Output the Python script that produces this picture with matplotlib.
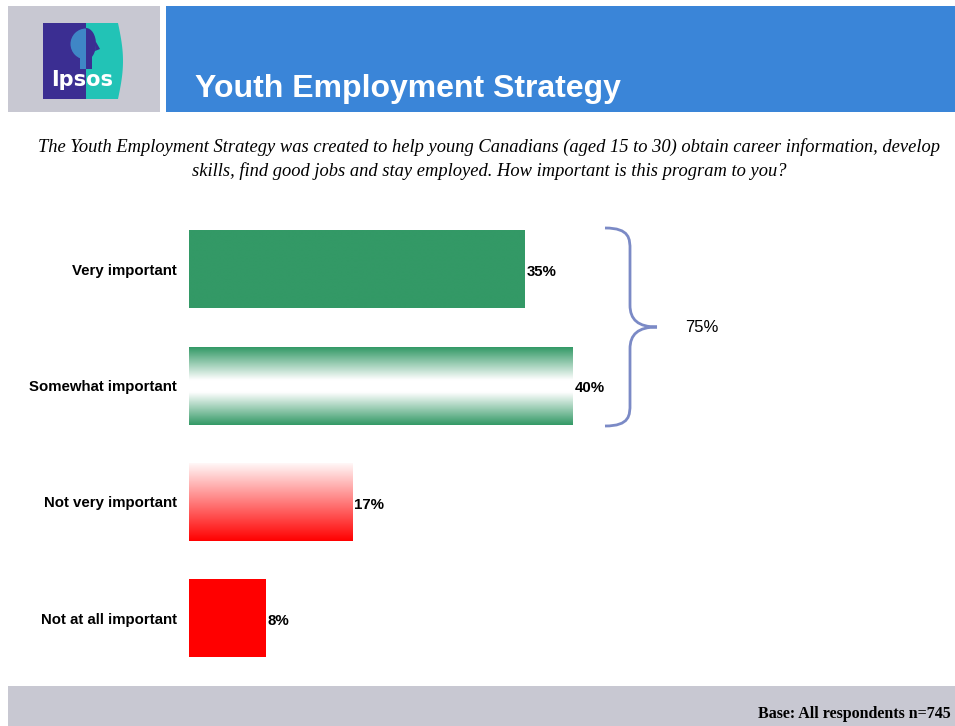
import numpy as np
import matplotlib
matplotlib.use("Agg")
import matplotlib.pyplot as plt
from matplotlib.patches import Rectangle, Ellipse, PathPatch, Polygon, Wedge
from matplotlib.path import Path

# survey results
categories = ["Very important", "Somewhat important", "Not very important", "Not at all important"]
values = [35, 40, 17, 8]
value_labels = ["35%", "40%", "17%", "8%"]
combined_label = "75%"

title = "Youth Employment Strategy"
question = ("The Youth Employment Strategy was created to help young Canadians (aged 15 to 30) obtain career information, develop\n"
            "skills, find good jobs and stay employed. How important is this program to you?")
base_note = "Base: All respondents n=745"

GREEN = np.array([0x33, 0x99, 0x66]) / 255
RED = np.array([1.0, 0.0, 0.0])
PINK = np.array([1.0, 0.97, 0.97])
WHITE = np.array([1.0, 1.0, 1.0])

W, H = 955, 726
fig = plt.figure(figsize=(W / 100, H / 100), dpi=100)

# background layer in pixel coordinates
bg = fig.add_axes([0, 0, 1, 1])
bg.set_xlim(0, W)
bg.set_ylim(H, 0)
bg.axis("off")

bg.add_patch(Rectangle((8, 6), 152, 106, color="#C8C8D2", lw=0))
bg.add_patch(Rectangle((166, 6), 789, 106, color="#3A85D8", lw=0))
bg.add_patch(Rectangle((8, 686), 947, 40, color="#C8C8D2", lw=0))

# logo
PURPLE = "#3B2E92"
LIGHT = "#3F86C6"
bg.add_patch(Rectangle((43, 23), 44, 76, color=PURPLE, lw=0))
t = np.linspace(0, 1, 30)
right_edge = 118 + 5 * np.sin(np.pi * t)
teal_pts = [(86, 23)] + list(zip(right_edge, 23 + 76 * t)) + [(86, 99)]
bg.add_patch(Polygon(teal_pts, closed=True, color="#22C3B6", lw=0))
# head silhouette, light half on the left, dark half on the right
bg.add_patch(Ellipse((86, 44), 20, 32, color=PURPLE, lw=0, zorder=1))
bg.add_patch(Wedge((86, 44), 15.5, 90, 270, color=LIGHT, lw=0, zorder=1.6))
bg.add_patch(Rectangle((80, 55), 6, 14, color=LIGHT, lw=0, zorder=1.6))
bg.add_patch(Rectangle((86, 55), 6, 14, color=PURPLE, lw=0, zorder=1.6))
bg.add_patch(Polygon([(96, 42), (100, 49), (95, 51)], closed=True, color=PURPLE, lw=0, zorder=1.6))
bg.text(82, 80, "Ipsos", color="white", fontsize=15, fontweight="bold",
        family="DejaVu Sans", ha="center", va="center", zorder=2)

bg.text(195, 89, title, color="white", fontsize=23, fontweight="bold",
        family="Liberation Sans", ha="left", va="center")
bg.text(489, 159, question, fontsize=13.3, style="italic", family="Liberation Serif",
        ha="center", va="center", linespacing=1.4)
bg.text(951, 714, base_note, fontsize=11.5, fontweight="bold", family="Liberation Serif",
        ha="right", va="center")

# bar chart
px_per_pct = 9.6
top, step = 211.5, 116.3
x0 = 189
ax = fig.add_axes([x0 / W, (H - (top + 4 * step)) / H, (W - x0) / W, 4 * step / H])
ax.axis("off")
ax.patch.set_alpha(0)

bar_h = 0.665
ypos = np.arange(len(categories))


def gradient_bar(ax, y, v, stops):
    # vertical colour gradient, stops are (position from top, rgb)
    n = 200
    s = np.linspace(0, 1, n)
    pos = [p for p, _ in stops]
    cols = np.stack([np.interp(s, pos, [c[i] for _, c in stops]) for i in range(3)], axis=1)
    img = cols[:, None, :]
    ax.imshow(img, extent=(0, v, y + bar_h / 2, y - bar_h / 2), aspect="auto",
              interpolation="bilinear", zorder=2)


fills = [
    [(0, GREEN), (1, GREEN)],
    [(0, GREEN), (0.42, WHITE), (0.58, WHITE), (1, GREEN)],
    [(0, PINK), (1, RED)],
    [(0, RED), (1, RED)],
]
for y, v, lab, f in zip(ypos, values, value_labels, fills):
    gradient_bar(ax, y, v, f)
    ax.text(v + 0.2, y + 0.02, lab, fontsize=10.8, fontweight="bold", family="Liberation Sans",
            ha="left", va="center")
for y, c in zip(ypos, categories):
    ax.text(-12 / px_per_pct, y + 0.01, c, fontsize=10.8, fontweight="bold", family="Liberation Sans",
            ha="right", va="center", clip_on=False)
ax.set_xlim(0, (W - x0) / px_per_pct)
ax.set_ylim(3.5, -0.5)

# brace round the two top categories
bx0 = (605 - x0) / px_per_pct
bx1 = (630 - x0) / px_per_pct
bx2 = (657 - x0) / px_per_pct
yt = -0.5 + (228 - top) / step
yb = -0.5 + (426 - top) / step
ym = (yt + yb) / 2
r = 22 / step
verts = [
    (bx0, yt), (bx1, yt), (bx1, yt + r / 2), (bx1, yt + r),
    (bx1, ym - r),
    (bx1, ym - r / 3), (bx1 + (bx2 - bx1) * 0.3, ym), (bx2, ym),
    (bx1 + (bx2 - bx1) * 0.3, ym), (bx1, ym + r / 3), (bx1, ym + r),
    (bx1, yb - r),
    (bx1, yb - r / 2), (bx1, yb), (bx0, yb),
]
codes = [Path.MOVETO, Path.CURVE4, Path.CURVE4, Path.CURVE4, Path.LINETO,
         Path.CURVE4, Path.CURVE4, Path.CURVE4, Path.CURVE4, Path.CURVE4, Path.CURVE4,
         Path.LINETO, Path.CURVE4, Path.CURVE4, Path.CURVE4]
ax.add_patch(PathPatch(Path(verts, codes), fill=False, ec="#7B8AC6", lw=2, zorder=3))
ax.text((685 - x0) / px_per_pct, ym, combined_label, fontsize=12, family="Liberation Sans",
        ha="left", va="center")

fig.savefig("out.png", dpi=100)
